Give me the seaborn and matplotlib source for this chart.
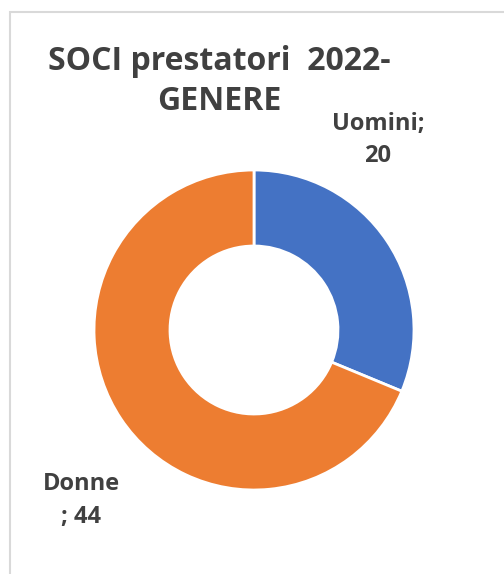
import matplotlib
matplotlib.use("Agg")
import matplotlib.pyplot as plt
import seaborn as sns
from matplotlib.patches import Rectangle

# data
generi = ["Uomini", "Donne"]
soci = [20, 44]
colori = ["#4472C4", "#ED7D31"]

sns.set_style("white")
plt.rcParams['font.family'] = ['Open Sans', 'DejaVu Sans']

fig = plt.figure(figsize=(5.04, 5.74), dpi=100)

# chart area border (like the excel frame)
fig.patches.append(Rectangle((10 / 504, -0.05), 1.2, 1 - 12 / 574 + 0.05,
                             transform=fig.transFigure, fill=False,
                             edgecolor="#d9d9d9", linewidth=1.5))

ax = fig.add_axes([94 / 504, 1 - 490 / 574, 320 / 504, 320 / 574])
ax.pie(soci, colors=colori, startangle=90, counterclock=False,
       radius=1, wedgeprops=dict(width=0.475, edgecolor="white", linewidth=2))
ax.set_xlim(-1, 1)
ax.set_ylim(-1, 1)
ax.set_aspect("equal")
ax.axis("off")

fig.text(219 / 504, 1 - 82 / 574, "SOCI prestatori  2022-\nGENERE",
         ha="center", va="center", fontsize=23, fontweight="bold",
         color="#404040", linespacing=1.28)

# labels "name; value"
fig.text(378 / 504, 1 - 140 / 574, f"{generi[0]};\n{soci[0]}",
         ha="center", va="center", fontsize=17, fontweight="bold",
         color="#404040", linespacing=1.45)
fig.text(81 / 504, 1 - 500 / 574, f"{generi[1]}\n; {soci[1]}",
         ha="center", va="center", fontsize=17, fontweight="bold",
         color="#404040", linespacing=1.5)

fig.savefig("out.png", dpi=100)
